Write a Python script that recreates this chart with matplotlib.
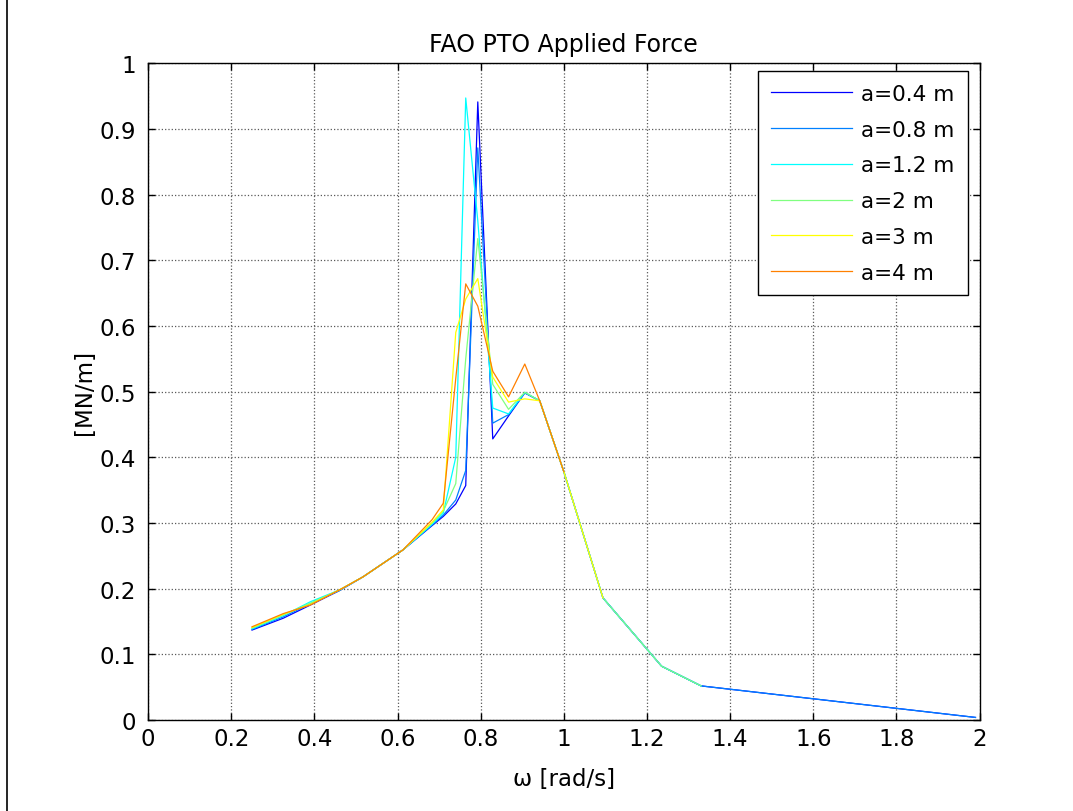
import matplotlib
matplotlib.use('Agg')
import matplotlib.pyplot as plt
from matplotlib.lines import Line2D

plt.rcParams['font.family'] = ['DejaVu Sans']

# frequency grid [rad/s]
omega = [0.25, 0.325, 0.39, 0.46, 0.517, 0.613, 0.683, 0.71, 0.74, 0.764,
         0.793, 0.829, 0.867, 0.906, 0.942, 1.0, 1.094, 1.235, 1.33, 1.99]

labels = ['a=0.4 m', 'a=0.8 m', 'a=1.2 m', 'a=2 m', 'a=3 m', 'a=4 m']
colors = ['#0000ff', '#0080ff', '#00ffff', '#80ff80', '#ffff00', '#ff8000']

f_04 = [0.137, 0.155, 0.175, 0.197, 0.218, 0.259, 0.296, 0.310, 0.329, 0.357,
        0.941, 0.428, 0.463, 0.498, 0.486, 0.378, 0.186, 0.082, 0.052, 0.004]
f_08 = [0.138, 0.157, 0.177, 0.197, 0.218, 0.259, 0.297, 0.312, 0.335, 0.380,
        0.871, 0.452, 0.465, 0.498, 0.486, 0.378, 0.186, 0.082, 0.052, 0.004]
f_12 = [0.139, 0.159, 0.180, 0.198, 0.218, 0.259, 0.298, 0.315, 0.400, 0.947,
        0.760, 0.475, 0.466, 0.499, 0.486, 0.378, 0.186, 0.082, 0.052]
f_2 = [0.140, 0.160, 0.178, 0.198, 0.218, 0.259, 0.300, 0.318, 0.360, 0.550,
       0.733, 0.511, 0.473, 0.499, 0.486, 0.378, 0.186, 0.082, 0.052]
f_3 = [0.141, 0.161, 0.176, 0.198, 0.218, 0.259, 0.301, 0.320, 0.590, 0.641,
       0.672, 0.522, 0.484, 0.489, 0.486, 0.378, 0.186]
f_4 = [0.142, 0.162, 0.175, 0.198, 0.218, 0.259, 0.305, 0.330, 0.520, 0.664,
       0.630, 0.531, 0.492, 0.542, 0.486, 0.378]

series = [f_04, f_08, f_12, f_2, f_3, f_4]

fig = plt.figure(figsize=(10.73, 8.12), dpi=100)
ax = fig.add_axes([0.138, 0.112, 0.775, 0.809])

for vals, lab, col in zip(series, labels, colors):
    ax.plot(omega[:len(vals)], vals, color=col, linewidth=0.9, label=lab)

ax.set_xlim(0, 2)
ax.set_ylim(0, 1)
ax.set_xticks([0, 0.2, 0.4, 0.6, 0.8, 1, 1.2, 1.4, 1.6, 1.8, 2])
ax.set_xticklabels(['0', '0.2', '0.4', '0.6', '0.8', '1', '1.2', '1.4', '1.6', '1.8', '2'])
ax.set_yticks([0, 0.1, 0.2, 0.3, 0.4, 0.5, 0.6, 0.7, 0.8, 0.9, 1])
ax.set_yticklabels(['0', '0.1', '0.2', '0.3', '0.4', '0.5', '0.6', '0.7', '0.8', '0.9', '1'])
ax.tick_params(direction='in', top=True, right=True, length=5, width=1,
               labelsize=16.5)
ax.tick_params(axis='x', pad=5)
ax.tick_params(axis='y', pad=9)
ax.grid(True, linestyle=':', color='0.35', linewidth=0.9)
for sp in ax.spines.values():
    sp.set_linewidth(1.0)

ax.set_title('FAO PTO Applied Force', fontsize=17, pad=9)
ax.set_xlabel('ω [rad/s]', fontsize=16.5)
ax.set_ylabel('[MN/m]', fontsize=16.5)
ax.xaxis.set_label_coords(0.5, -0.071)
ax.yaxis.set_label_coords(-0.063, 0.5)

leg = ax.legend(loc='upper right', fontsize=15.5, frameon=True, fancybox=False,
                handlelength=3.8, handletextpad=0.42, borderpad=0.6,
                labelspacing=0.73, borderaxespad=0,
                bbox_to_anchor=(0.9856, 0.988))
leg.get_frame().set_edgecolor('black')
leg.get_frame().set_linewidth(1.0)
leg.get_frame().set_alpha(1.0)

# thin border line at the left edge of the figure
fig.add_artist(Line2D([0.0065, 0.0065], [0, 1], transform=fig.transFigure,
                      color='black', linewidth=1.2))

fig.savefig('out.png', dpi=100)
